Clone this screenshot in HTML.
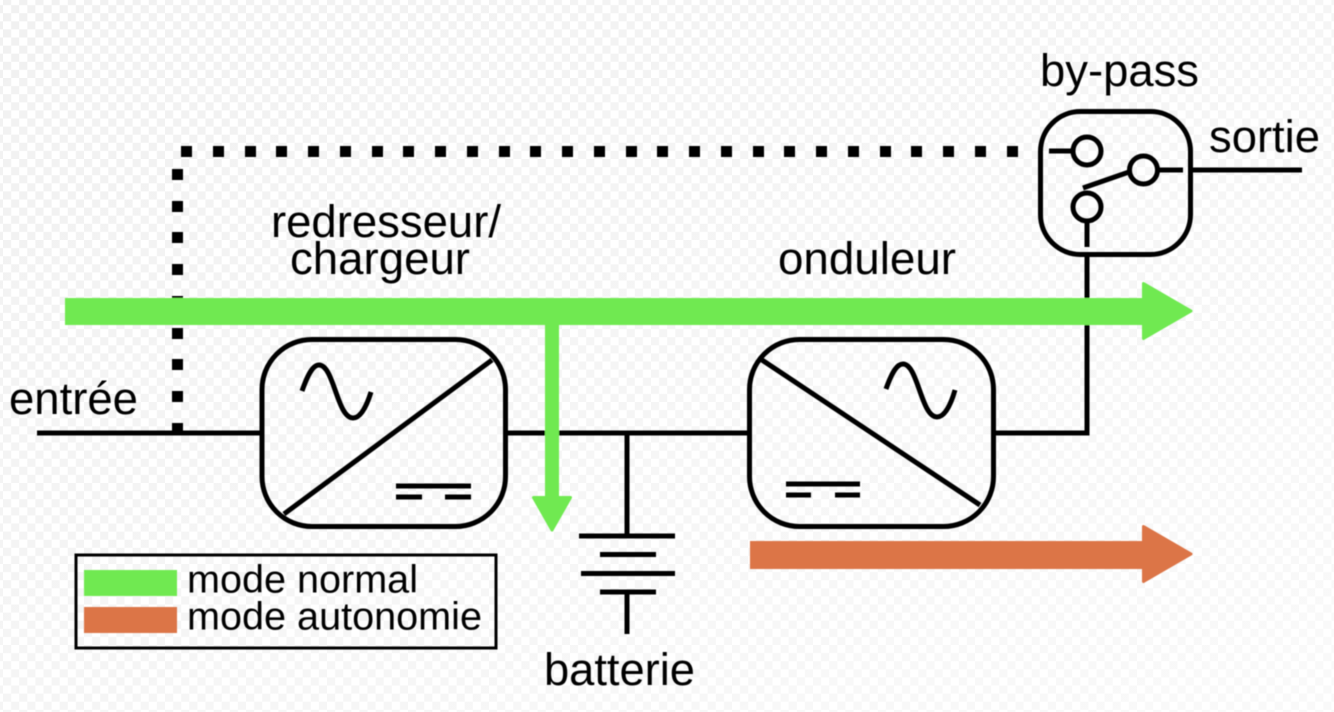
<!DOCTYPE html>
<html><head><meta charset="utf-8"><style>html,body{margin:0;padding:0;background:#fff}svg{display:block}text{font-family:"Liberation Sans",sans-serif;fill:#000}</style></head>
<body>
<svg xmlns="http://www.w3.org/2000/svg" width="1334" height="712" viewBox="0 0 1334 712">
<defs>
<pattern id="c" width="16.2" height="16.2" patternUnits="userSpaceOnUse" patternTransform="translate(3,-3)">
<rect width="16.2" height="16.2" fill="#fff"/><rect width="8.1" height="8.1" fill="#f1f1f1"/><rect x="8.1" y="8.1" width="8.1" height="8.1" fill="#f1f1f1"/>
</pattern>
<linearGradient id="f" x1="0" y1="0" x2="1" y2="1"><stop offset="0" stop-color="#fff" stop-opacity="0"/><stop offset="1" stop-color="#fff" stop-opacity=".6"/></linearGradient>
<filter id="b" x="0" y="0" width="100%" height="100%"><feGaussianBlur stdDeviation="0.45"/></filter>
</defs>
<rect width="1334" height="712" fill="url(#c)"/>
<rect width="1334" height="712" fill="url(#f)"/>
<g filter="url(#b)">
<g fill="none" stroke="#000" stroke-width="5">
<path d="M37 433H260M508 433H748M996 433H1087V257M627 433V537"/>
<rect x="262" y="339.500" width="243.500" height="187" rx="50"/>
<path d="M284 514L492 360"/>
<path d="M302 391C308 374 313 365 319 365C334 365 337 418 353 418C361 418 367 405 371 392"/>
<path d="M396 486H471" /><path d="M396 497H422M445 497H471"/>
<rect x="749.500" y="339.500" width="244" height="187" rx="50"/>
<path d="M762 360L980 505"/>
<path d="M886 389C892 372 897 364 903 364C918 364 921 417 937 417C945 417 951 404 955 390"/>
<path d="M786 484H860M786 495H811M835 495H860"/>
<rect x="1040.500" y="111.500" width="150" height="143" rx="40"/>
<circle cx="1087" cy="151" r="14"/><circle cx="1143.500" cy="170" r="14"/><circle cx="1087" cy="207" r="14"/>
<path d="M1049 151H1073M1159 170H1183M1193 170H1302M1083 188L1129 172M1087 221V247"/>
<path d="M579 536H675M600 554.500H656M581 573.500H675M600 592H656M627 592V634"/>
</g>
<path d="M172 169h11v11h-11zM172 201h11v11h-11zM172 232h11v11h-11zM172 264h11v11h-11zM172 296h11v11h-11zM172 328h11v11h-11zM172 359h11v11h-11zM172 391h11v11h-11zM172 423h11v10h-11z"/>
<path d="M181 146h11v11h-11zM213 146h11v11h-11zM245 146h11v11h-11zM276 146h11v11h-11zM308 146h11v11h-11zM340 146h11v11h-11zM372 146h11v11h-11zM403 146h11v11h-11zM435 146h11v11h-11zM467 146h11v11h-11zM499 146h11v11h-11zM530 146h11v11h-11zM562 146h11v11h-11zM594 146h11v11h-11zM626 146h11v11h-11zM657 146h11v11h-11zM689 146h11v11h-11zM721 146h11v11h-11zM753 146h11v11h-11zM784 146h11v11h-11zM816 146h11v11h-11zM848 146h11v11h-11zM880 146h11v11h-11zM911 146h11v11h-11zM943 146h11v11h-11zM975 146h11v11h-11zM1007 146h11v11h-11z"/>
<rect x="65" y="298" width="1080" height="27" fill="#6fe951"/>
<path d="M1143.500 283.500L1191 311L1143.500 338.500Z" fill="#6fe951" stroke="#6fe951" stroke-width="3" stroke-linejoin="round"/>
<rect x="545" y="320" width="14" height="180" fill="#6fe951"/>
<path d="M533.500 497.500H570.500L552 530Z" fill="#6fe951" stroke="#6fe951" stroke-width="3" stroke-linejoin="round"/>
<rect x="750" y="541" width="395" height="28" fill="#dc7546"/>
<path d="M1143.500 526.500L1191 554L1143.500 581.500Z" fill="#dc7546" stroke="#dc7546" stroke-width="3" stroke-linejoin="round"/>
<rect x="76" y="555" width="420" height="93" fill="none" stroke="#000" stroke-width="3"/>
<rect x="84" y="570" width="93" height="26" fill="#6fe951"/>
<rect x="84" y="607" width="93" height="26" fill="#dc7546"/>
<text x="187" y="592.500" font-size="39" textLength="231" lengthAdjust="spacingAndGlyphs">mode normal</text>
<text x="187" y="629.500" font-size="39" textLength="295" lengthAdjust="spacingAndGlyphs">mode autonomie</text>
<text x="1040" y="86" font-size="45" textLength="159" lengthAdjust="spacingAndGlyphs">by-pass</text>
<text x="1209" y="152" font-size="45" textLength="111" lengthAdjust="spacingAndGlyphs">sortie</text>
<text x="271" y="237" font-size="45" textLength="230" lengthAdjust="spacingAndGlyphs">redresseur/</text>
<text x="290" y="274" font-size="45" textLength="180" lengthAdjust="spacingAndGlyphs">chargeur</text>
<text x="778" y="274" font-size="45" textLength="178" lengthAdjust="spacingAndGlyphs">onduleur</text>
<text x="9" y="414" font-size="45" textLength="129" lengthAdjust="spacingAndGlyphs">entrée</text>
<text x="544" y="685" font-size="45" textLength="151" lengthAdjust="spacingAndGlyphs">batterie</text>
</g>
</svg>
</body></html>
